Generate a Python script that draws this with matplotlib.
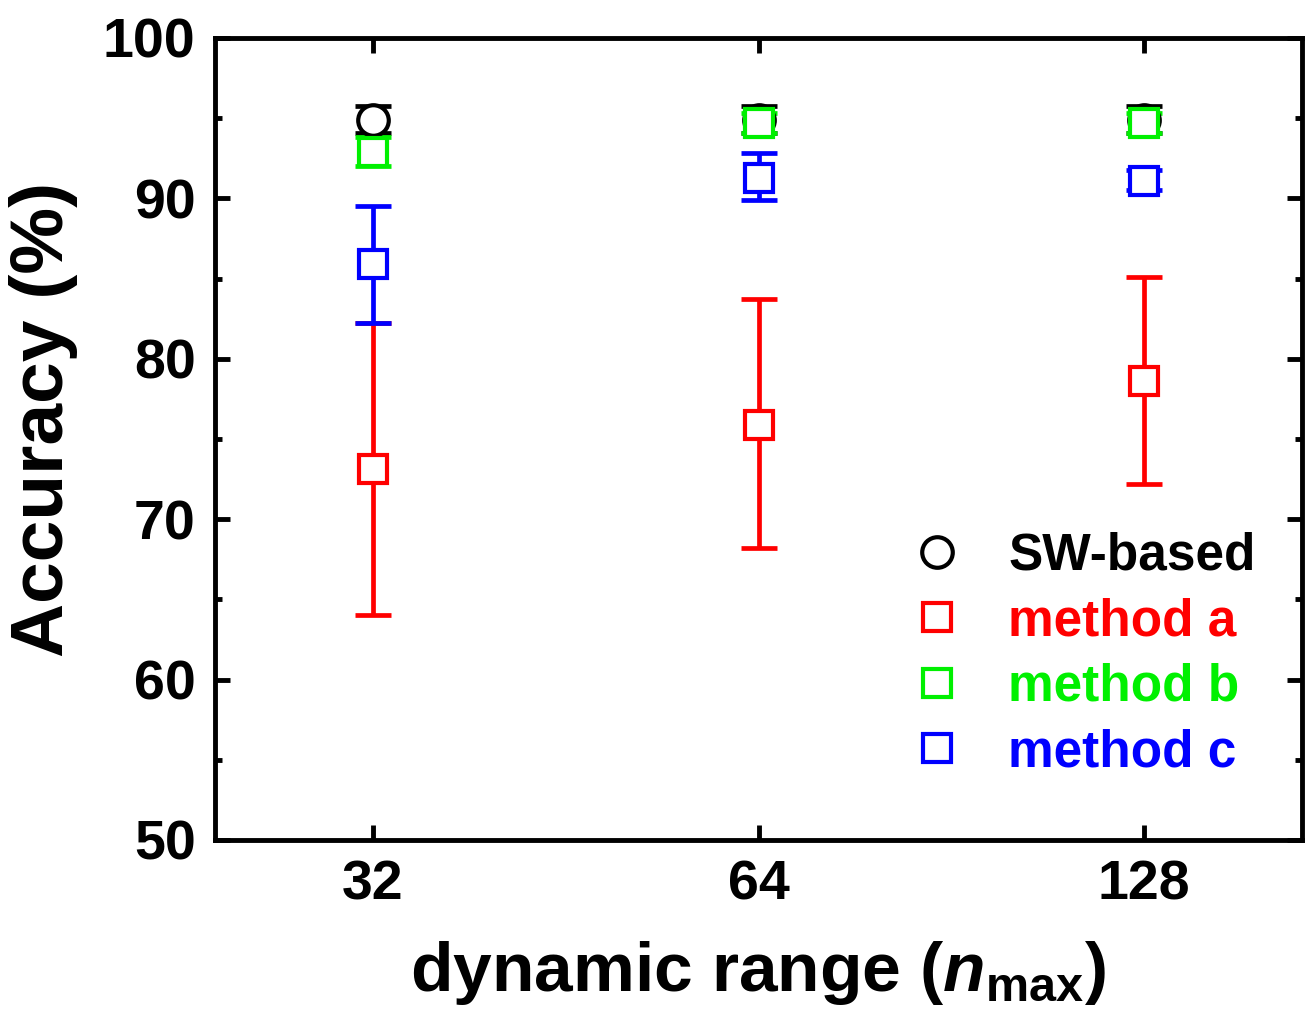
import numpy as np
import matplotlib
matplotlib.use("Agg")
import matplotlib.pyplot as plt

plt.rcParams['font.family'] = ['Liberation Sans', 'DejaVu Sans']
plt.rcParams['font.weight'] = 'bold'
plt.rcParams['mathtext.fontset'] = 'custom'
plt.rcParams['mathtext.it'] = 'Liberation Sans:italic:bold'
plt.rcParams['mathtext.rm'] = 'Liberation Sans:bold'

categories = ["32", "64", "128"]

sw_mean = [94.9, 94.9, 94.9]
sw_err = [0.85, 0.85, 0.85]

a_mean = [73.1, 75.9, 78.6]
a_lo = [64.0, 68.2, 72.2]
a_hi = [82.2, 83.7, 85.1]

b_mean = [92.9, 94.7, 94.7]
b_err = [0.9, 0.6, 0.6]

c_mean = [85.9, 91.3, 91.1]
c_lo = [82.2, 89.9, 90.5]
c_hi = [89.5, 92.8, 91.8]

x = np.arange(len(categories))

RED = '#ff0000'
GREEN = '#00f000'
BLUE = '#0000ff'

fig = plt.figure(figsize=(13.06, 10.13), dpi=100)
ax = fig.add_axes([0.1646, 0.1708, 0.8324, 0.7917])

common = dict(fmt='none', elinewidth=3.4, capsize=13, capthick=3.4)
ms = 20
mew = 3

# method a
a_mean = np.array(a_mean)
ax.errorbar(x, a_mean, yerr=[a_mean - np.array(a_lo), np.array(a_hi) - a_mean],
            ecolor=RED, **common)
# method c
c_mean = np.array(c_mean)
ax.errorbar(x, c_mean, yerr=[c_mean - np.array(c_lo), np.array(c_hi) - c_mean],
            ecolor=BLUE, **common)
# SW-based
ax.errorbar(x, sw_mean, yerr=sw_err, ecolor='black', **common)
# method b
ax.errorbar(x, b_mean, yerr=b_err, ecolor=GREEN, **common)

ax.plot(x, sw_mean, 'o', ms=ms + 2, mfc='white', mec='black', mew=mew,
        ls='none', label='SW-based')
ax.plot(x, a_mean, 's', ms=ms, mfc='white', mec=RED, mew=mew,
        ls='none', label='method a')
ax.plot(x, b_mean, 's', ms=ms, mfc='white', mec=GREEN, mew=mew,
        ls='none', label='method b')
ax.plot(x, c_mean, 's', ms=ms, mfc='white', mec=BLUE, mew=mew,
        ls='none', label='method c')

ax.set_xlim(-0.41, 2.41)
ax.set_ylim(50, 100)
ax.set_xticks(x)
ax.set_xticklabels(categories)
ax.set_yticks(np.arange(50, 101, 10))
ax.set_yticks(np.arange(55, 100, 10), minor=True)

ax.tick_params(axis='both', which='major', direction='in', length=11, width=3.5,
               labelsize=40, top=True, right=True, pad=14)
ax.tick_params(axis='y', which='minor', direction='in', length=5, width=3.5,
               right=True)
for s in ax.spines.values():
    s.set_linewidth(3.5)

ax.set_ylabel('Accuracy (%)', fontsize=54, fontweight='bold')
ax.yaxis.set_label_coords(-0.126, 0.524)
ax.set_xlabel(r'dynamic range ($n_{\mathrm{max}}$)', fontsize=50,
              fontweight='bold', labelpad=20)

leg = ax.legend(loc='upper left', bbox_to_anchor=(0.61, 0.41), frameon=False,
                fontsize=37, handletextpad=0.63, labelspacing=0.32,
                handlelength=1.5, borderaxespad=0)
for t, c in zip(leg.get_texts(), ['black', RED, GREEN, BLUE]):
    t.set_color(c)

fig.savefig('out.png', dpi=100)
